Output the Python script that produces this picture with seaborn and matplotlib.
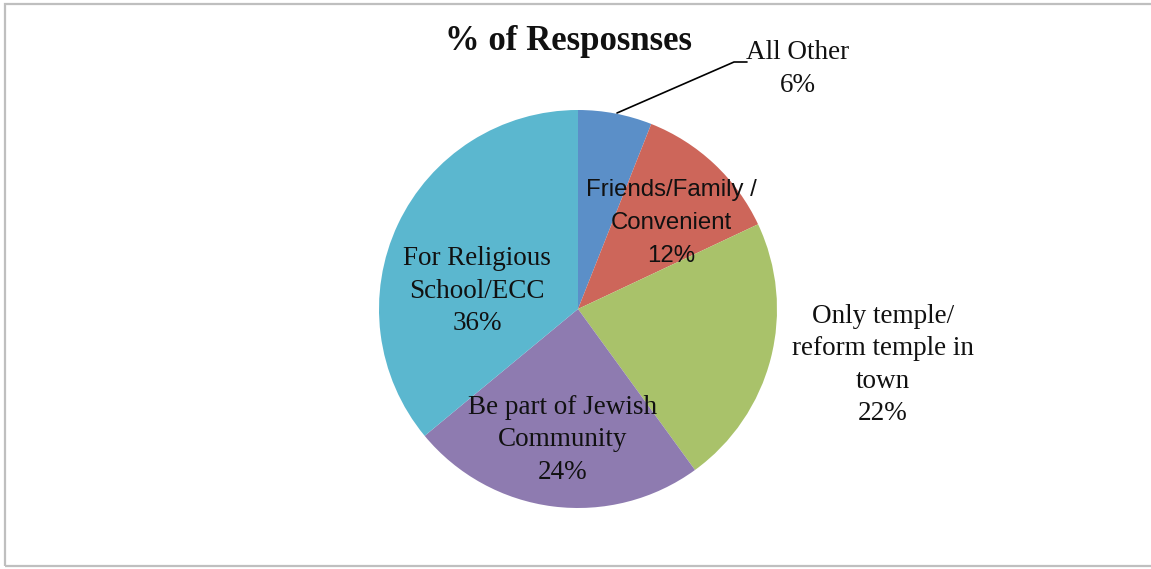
import matplotlib
matplotlib.use("Agg")
import matplotlib.pyplot as plt
import seaborn as sns
from matplotlib.patches import Rectangle

# Survey responses: reasons for joining the congregation
categories = ["All Other", "Friends/Family /\nConvenient", "Only temple/\nreform temple in\ntown",
              "Be part of Jewish\nCommunity", "For Religious\nSchool/ECC"]
percents = [6, 12, 22, 24, 36]
slice_colors = ["#5B8FC8", "#CD665A", "#A9C26A", "#8E7BB0", "#5BB7CF"]
title = "% of Resposnses"

sns.set_theme(style="white")
plt.rcParams["font.family"] = ["Liberation Serif", "DejaVu Serif"]

W, H = 1151, 569
fig = plt.figure(figsize=(W / 100, H / 100), dpi=100)
ax = fig.add_axes([0, 0, 1, 1])

palette = sns.color_palette(slice_colors)
cx, cy, r = 578, H - 309, 199
wedges, _ = ax.pie(percents, colors=palette, startangle=90, counterclock=False,
                   center=(cx, cy), radius=r, wedgeprops=dict(linewidth=0))
ax.set_xlim(0, W)
ax.set_ylim(0, H)
ax.set_aspect("equal")
ax.axis("off")

labels = [f"{c}\n{p}%" for c, p in zip(categories, percents)]
label_pos = [(798, H - 69), (671, H - 223), (883, H - 365), (563, H - 440), (477, H - 291)]
serif = ["Liberation Serif", "DejaVu Serif"]
sans = ["Liberation Sans", "DejaVu Sans"]
for i, (lab, (x, y)) in enumerate(zip(labels, label_pos)):
    if i == 1:
        fam, fs, ls = sans, 17.3, 1.62
    else:
        fam, fs, ls = serif, 19.5, 1.38
    ax.text(x, y, lab, ha="center", va="center", fontsize=fs, family=fam,
            color="#111111", linespacing=ls)

# leader line for the small slice
ax.plot([617, 734, 747], [H - 113, H - 62, H - 62], color="black", lw=1.2)

ax.text(569, H - 41, title, ha="center", va="center", fontsize=25, fontweight="bold",
        family=serif, color="#111111")

# outer chart border
fig.patches.append(Rectangle((4.5 / W, 1 - 566 / H), 1.2, (566 - 3.5) / H,
                             transform=fig.transFigure, fill=False,
                             edgecolor="#BFBFBF", lw=1.6))

fig.savefig("out.png", dpi=100, facecolor="white")
